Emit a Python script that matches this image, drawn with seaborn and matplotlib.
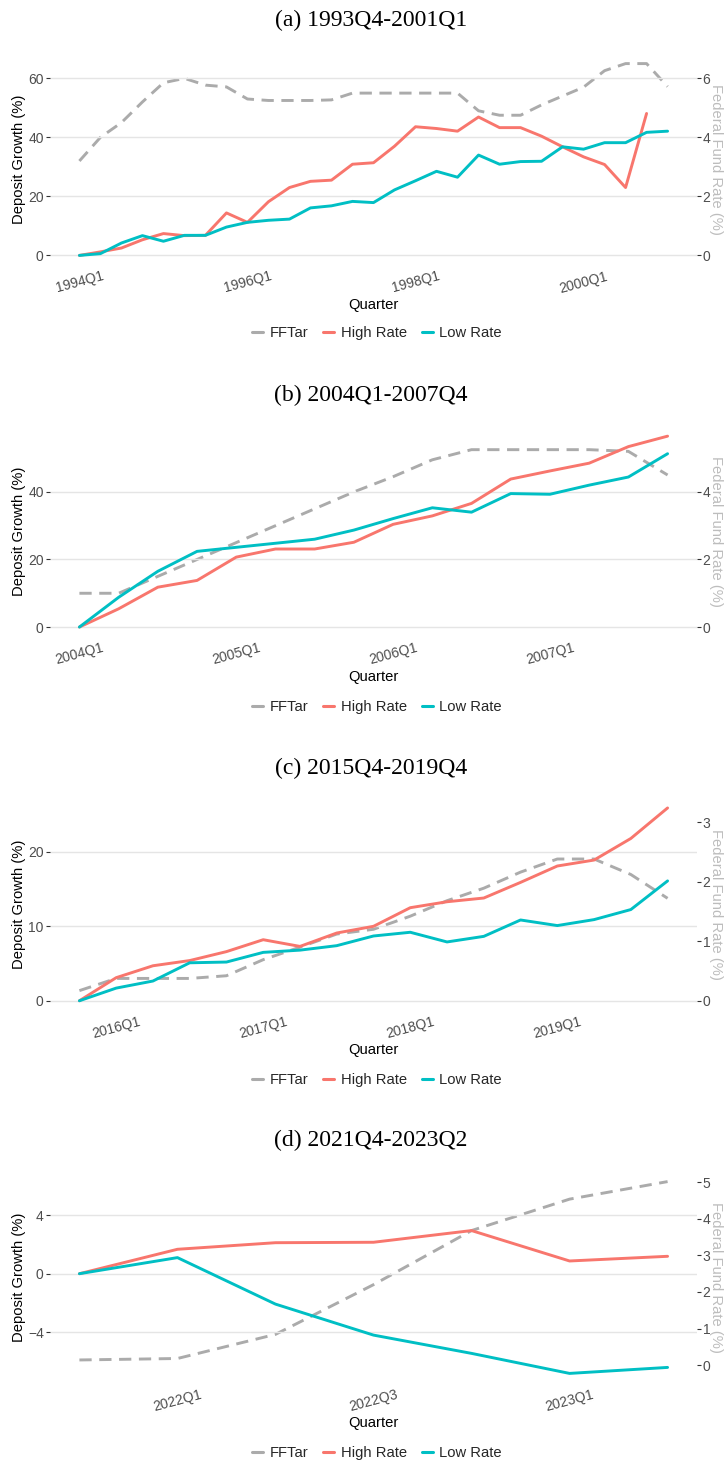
import matplotlib
matplotlib.use("Agg")
import matplotlib.pyplot as plt
import seaborn as sns
import pandas as pd
from matplotlib.lines import Line2D

# ---- data ----
# (a) 1993Q4-2001Q1
a_quarters = pd.period_range("1994Q1", "2001Q1", freq="Q").astype(str).tolist()
a_high = [0, 1.2, 2.5, 5.3, 7.4, 6.7, 6.8, 14.4, 11.2, 18.2, 23.0, 25.1, 25.5, 30.9,
          31.4, 37.0, 43.6, 43.0, 42.1, 46.9, 43.3, 43.3, 40.4, 36.8, 33.4, 30.8,
          23.0, 48.1]
a_low = [0, 0.6, 4.2, 6.7, 4.8, 6.8, 6.8, 9.6, 11.2, 11.9, 12.3, 16.1, 16.8, 18.3,
         17.9, 22.2, 25.3, 28.5, 26.5, 34.0, 30.9, 31.8, 31.9, 36.8, 36.0, 38.2,
         38.2, 41.7, 42.1]
a_fftar = [3.2, 4.0, 4.5, 5.2, 5.85, 6.0, 5.77, 5.71, 5.3, 5.25, 5.25, 5.25, 5.27,
           5.5, 5.5, 5.5, 5.5, 5.5, 5.5, 4.9, 4.75, 4.75, 5.1, 5.4, 5.7, 6.26,
           6.5, 6.5, 5.72]
a_ticks = ["1994Q1", "1996Q1", "1998Q1", "2000Q1"]

# (b) 2004Q1-2007Q4
b_quarters = pd.period_range("2004Q1", "2007Q4", freq="Q").astype(str).tolist()
b_high = [0, 5.4, 11.8, 13.8, 20.7, 23.1, 23.1, 25.1, 30.4, 32.9, 36.6, 43.8, 46.2,
          48.5, 53.4, 56.5]
b_low = [0, 8.8, 16.5, 22.4, 23.6, 24.8, 26.0, 28.7, 32.1, 35.3, 34.0, 39.5, 39.3,
         42.0, 44.4, 51.3]
b_fftar = [1.0, 1.0, 1.5, 2.0, 2.5, 3.0, 3.5, 4.0, 4.45, 4.95, 5.25, 5.25, 5.25,
           5.25, 5.2, 4.5]
b_ticks = ["2004Q1", "2005Q1", "2006Q1", "2007Q1"]

# (c) 2015Q4-2019Q4
c_quarters = pd.period_range("2015Q4", "2019Q4", freq="Q").astype(str).tolist()
c_high = [0, 3.1, 4.7, 5.4, 6.6, 8.2, 7.3, 9.1, 10.0, 12.5, 13.3, 13.8, 15.9, 18.1,
          18.9, 21.8, 25.9]
c_low = [0, 1.7, 2.65, 5.1, 5.2, 6.5, 6.8, 7.4, 8.7, 9.2, 7.9, 8.65, 10.85, 10.1,
         10.9, 12.25, 16.1]
c_fftar = [0.17, 0.375, 0.375, 0.375, 0.42, 0.69, 0.9, 1.12, 1.2, 1.42, 1.68, 1.89,
           2.16, 2.38, 2.38, 2.12, 1.72]
c_ticks = ["2016Q1", "2017Q1", "2018Q1", "2019Q1"]

# (d) 2021Q4-2023Q2
d_quarters = pd.period_range("2021Q4", "2023Q2", freq="Q").astype(str).tolist()
d_high = [0, 1.67, 2.12, 2.15, 2.95, 0.87, 1.19]
d_low = [0, 1.1, -2.08, -4.2, -5.45, -6.82, -6.41]
d_fftar = [0.14, 0.18, 0.84, 2.2, 3.68, 4.54, 5.02]
d_ticks = ["2022Q1", "2022Q3", "2023Q1"]

HIGH_COLOR = "#F8766D"
LOW_COLOR = "#00BFC4"
FF_COLOR = "#ABABAB"
TICK_COLOR = "#4D4D4D"

sns.set_theme(style="white")
plt.rcParams["font.family"] = ["Liberation Sans", "DejaVu Sans"]

W, H = 724, 1463
fig = plt.figure(figsize=(W / 100, H / 100), dpi=100)


def fx(px):
    return px / W


def fy(py):
    return 1 - py / H


def draw_panel(title, quarters, high, low, fftar, ticks, factor, shift,
               left_ticks, right_ticks, top, bottom, title_y, xlab_y, leg_y):
    left, right = 50, 697
    ax = fig.add_axes([fx(left), fy(bottom), fx(right - left), (bottom - top) / H])
    n = len(quarters)
    rows = []
    for name, vals in [("High Rate", high), ("Low Rate", low)]:
        for i, v in enumerate(vals):
            rows.append({"idx": i, "growth": v, "group": name})
    df = pd.DataFrame(rows)
    sns.lineplot(data=df, x="idx", y="growth", hue="group",
                 palette={"High Rate": HIGH_COLOR, "Low Rate": LOW_COLOR},
                 linewidth=2.1, legend=False, ax=ax)

    ax2 = ax.twinx()
    ff = pd.DataFrame({"idx": range(len(fftar)), "FFTar": fftar})
    sns.lineplot(data=ff, x="idx", y="FFTar", color=FF_COLOR, linewidth=2.1,
                 linestyle=(0, (4.2, 2.6)), ax=ax2)

    # shared range, ggplot-style 5% expansion
    vals = list(high) + list(low) + [v * factor + shift for v in fftar]
    lo, hi = min(vals), max(vals)
    pad = (hi - lo) * 0.05
    lo, hi = lo - pad, hi + pad
    ax.set_ylim(lo, hi)
    ax2.set_ylim((lo - shift) / factor, (hi - shift) / factor)
    ax.set_xlim(-0.05 * (n - 1), 1.05 * (n - 1))

    ax.set_yticks(left_ticks)
    ax2.set_yticks(right_ticks)
    ax.set_xticks([quarters.index(t) for t in ticks])
    ax.set_xticklabels(ticks, rotation=15)

    ax.yaxis.grid(True, color="#E5E5E5", linewidth=1.0)
    ax.xaxis.grid(False)
    for a in (ax, ax2):
        for s in a.spines.values():
            s.set_visible(False)
        a.tick_params(length=3, width=0.8, color="#333333", labelcolor=TICK_COLOR,
                      labelsize=10, pad=1.5)
        a.set_xlabel("")
        a.set_ylabel("")
    ax.tick_params(axis="x", pad=0)
    ax2.tick_params(axis="y", pad=1)
    ax2.set_zorder(ax.get_zorder() - 1)
    ax.patch.set_visible(False)

    fig.text(fx(371), fy(title_y), title, ha="center", va="center",
             fontsize=17, family=["Liberation Serif", "DejaVu Serif"], color="black")
    fig.text(fx(373), fy(xlab_y), "Quarter", ha="center", va="center",
             fontsize=10.6, color="black")
    fig.text(fx(19), fy((top + bottom) / 2), "Deposit Growth (%)", rotation=90,
             ha="center", va="center", fontsize=10.6, color="black")
    fig.text(fx(716), fy((top + bottom) / 2), "Federal Fund Rate (%)", rotation=270,
             ha="center", va="center", fontsize=10.6, color="#BDBDBD")

    handles = [Line2D([], [], color=FF_COLOR, lw=2.2),
               Line2D([], [], color=HIGH_COLOR, lw=2.2),
               Line2D([], [], color=LOW_COLOR, lw=2.2)]
    fig.legend(handles, ["FFTar", "High Rate", "Low Rate"], loc="center",
               bbox_to_anchor=(fx(377), fy(leg_y)), ncol=3, frameon=False,
               fontsize=10.6, handlelength=0.75, handletextpad=0.45,
               columnspacing=1.0, borderaxespad=0, borderpad=0)


draw_panel("(a) 1993Q4-2001Q1", a_quarters, a_high, a_low, a_fftar, a_ticks, 10, 0,
           [0, 20, 40, 60], [0, 2, 4, 6], 54, 265, 20, 305, 333)
draw_panel("(b) 2004Q1-2007Q4", b_quarters, b_high, b_low, b_fftar, b_ticks, 10, 0,
           [0, 20, 40], [0, 2, 4], 426.6, 636.6, 395, 677, 707)
draw_panel("(c) 2015Q4-2019Q4", c_quarters, c_high, c_low, c_fftar, c_ticks, 8, 0,
           [0, 10, 20], [0, 1, 2, 3], 798.3, 1010.4, 768, 1050, 1080)
draw_panel("(d) 2021Q4-2023Q2", d_quarters, d_high, d_low, d_fftar, d_ticks, 2.5, -6.25,
           [-4, 0, 4], [0, 1, 2, 3, 4, 5], 1172, 1383, 1140, 1423, 1453)

fig.savefig("out.png", dpi=100)
